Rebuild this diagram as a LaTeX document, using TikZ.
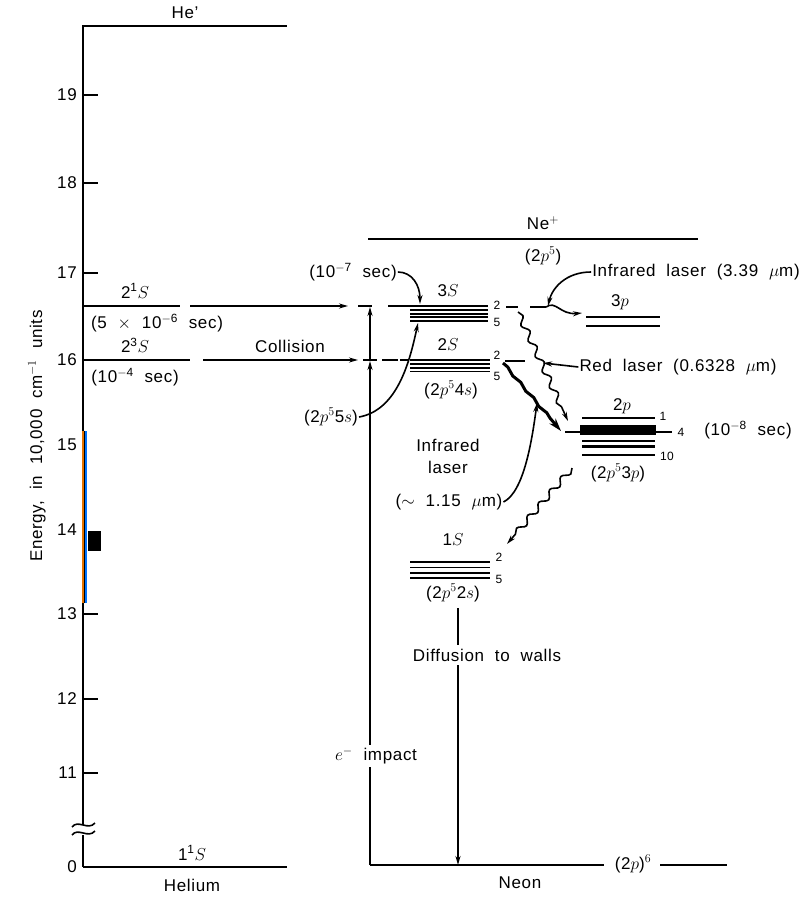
\documentclass[tikz,border=0pt]{standalone}
\usepackage{fontspec}
\setmainfont[LetterSpace=4,WordSpace=2]{Liberation Sans}
\usetikzlibrary{arrows.meta,decorations.pathmorphing}

\begin{document}
\begin{tikzpicture}[x=1pt,y=-1pt,>={Stealth[length=9pt,width=5pt]},
  every node/.style={font=\fontsize{17}{22}\selectfont,inner sep=1pt},
  small/.style={font=\fontsize{12}{13}\selectfont},
  lvl/.style={line width=2.4pt},
  con/.style={line width=1.6pt},
  wavy/.style={decorate,decoration={snake,amplitude=3pt,segment length=17pt,post length=9pt}}]
\useasboundingbox (0,0) rectangle (810,897);
% helium axis
\draw[line width=1.8pt] (83,25) -- (83,825);
\draw[line width=1.8pt] (83,835) -- (83,867);
\draw[con] (72,827) .. controls (78,819) and (88,831) .. (95,823);
\draw[con] (72,835) .. controls (78,827) and (88,839) .. (95,831);
\draw[orange!90!black, line width=2.2pt] (83,431) -- (83,603);
\draw[blue!55!cyan, line width=2pt] (86.2,431) -- (86.2,603);
\draw[line width=0.7pt] (84.8,431) -- (84.8,603);
\fill (88,531) rectangle (101,551);
\foreach \y/\v in {95/19,183/18,273/17,614/13,699/12,773/11}
  \draw[line width=1.8pt] (83,\y) -- (98,\y);
\foreach \y/\v in {95/19,183/18,273/17,360/16,445/15,530/14,614/13,699/12,773/11,867/0}
  \node[anchor=east] (t\v) at (78,\y) {\v};
\node[rotate=90] (elab) at (37,436) {Energy, in 10,000 cm$^{-1}$ units};
\draw[lvl] (83,26) -- (287,26) node[midway,above=5pt] (hep) {He'};
\draw[lvl] (83,867) -- (287,867);
\node (hg) at (192,853) {1\textsuperscript{1}$S$};
\node (hel) at (192,885) {Helium};
% helium metastables
\draw[lvl] (83,306) -- (180,306);
\node (h21) at (135,291) {2\textsuperscript{1}$S$};
\node (h21t) at (157,323) {(5 $\times$ 10\textsuperscript{$-$6} sec)};
\draw[lvl] (83,360) -- (190,360);
\node (h23) at (135,345) {2\textsuperscript{3}$S$};
\node (h23t) at (135,377) {(10\textsuperscript{$-$4} sec)};
\node (coll) at (290,346) {Collision};
\coordinate (a1) at (190,306);
\coordinate (b1) at (348,306);
\coordinate (a2) at (203,360);
\coordinate (b2) at (358,360);
\draw[con,->] (a1) -- (b1);
\draw[con,->] (a2) -- (b2);
% neon
\coordinate (n0) at (370,865);
\coordinate (n2s) at (370,361);
\coordinate (n3s) at (370,307);
\draw[con,->] (n0) -- (n2s);
\draw[con,->] (n2s) -- (n3s);
\draw[line width=2.8pt] (370,552) -- (370,602);
\node[fill=white,inner sep=3pt] (imp) at (376,756) {$e^-$ impact};
\draw[lvl] (370,865) -- (604,865);
\node (gs) at (633,864) {(2$p$)$^6$};
\draw[con] (660,865) -- (727,865);
\node (neon) at (520,883) {Neon};
\draw[lvl] (368,239) -- (698,239);
\node (nep) at (543,223) {Ne$^+$};
\node (p5) at (543,256) {(2$p^5$)};
% 3s levels
\draw[lvl] (358,306) -- (372,306);
\draw[lvl] (388,306) -- (410,306);
\foreach \y/\w in {306/2.6,310/1.3,313.5/2,317/2,321/1.3}
  \draw[line width=\w pt] (410,\y) -- (488,\y);
\node (s3) at (448,291) {3$S$};
\node[small] (s3a) at (497,305) {2};
\node[small] (s3b) at (497,322) {5};
\draw[lvl] (506,307) -- (518,307);
\draw[lvl] (530,307) -- (546,307);
% 2s levels
\draw[lvl] (363,360) -- (377,360);
\draw[lvl] (382,360) -- (398,360);
\draw[con] (400,360) -- (408,360);
\foreach \y/\w in {360/2.6,364/2,367.5/2,371.5/1.3}
  \draw[line width=\w pt] (410,\y) -- (490,\y);
\node (s2) at (448,345) {2$S$};
\node[small] (s2a) at (497,355) {2};
\node[small] (s2b) at (497,376) {5};
\draw[lvl] (505,361) -- (525,361);
\node (s2c) at (451,390) {(2$p^5$4$s$)};
% 3p levels
\draw[lvl] (586,317) -- (660,317);
\draw[lvl] (586,326) -- (660,326);
\node (p3) at (620,302) {3$p$};
% 2p levels
\draw[con] (565,432) -- (672,432);
\draw[line width=1.5pt] (582,418) -- (655,418);
\fill (580,425) rectangle (656,435);
\draw[line width=2pt] (582,441) -- (655,441);
\draw[line width=3pt] (582,446.5) -- (655,446.5);
\draw[line width=1.5pt] (582,455) -- (655,455);
\node (p2) at (622,406) {2$p$};
\node[small] (p2a) at (663,416) {1};
\node[small] (p2b) at (681,432) {4};
\node[small] (p2c) at (667,456) {10};
\node (p2t) at (748,430) {(10\textsuperscript{$-$8} sec)};
\node (p2d) at (618,473) {(2$p^5$3$p$)};
% 1s levels
\foreach \y/\w in {562/1.3,567.5/1.5,573/1.5,578/1.5}
  \draw[line width=\w pt] (410,\y) -- (490,\y);
\node (s1) at (453,540) {1$S$};
\node[small] (s1a) at (499,557) {2};
\node[small] (s1b) at (499,579) {5};
\node (s1c) at (453,593) {(2$p^5$2$s$)};
% transitions and labels
\node (t7) at (353,272) {(10\textsuperscript{$-$7} sec)};
\draw[con,->] (t7.east) .. controls (412,272) and (420,285) .. (420,304);
\node (s55) at (331,417) {(2$p^5$5$s$)};
\draw[con,->] (s55.east) .. controls (398,410) and (410,360) .. (418,323);
\node (ir1) at (696,272) {Infrared laser (3.39 $\mu$m)};
\draw[con,->] (ir1.west) .. controls (566,272) and (552,288) .. (548,306);
\draw[con,->] (546,307) .. controls (556,300) and (560,315) .. (582,313);
\node (red) at (678,367) {Red laser (0.6328 $\mu$m)};
\draw[con,->] (red.west) -- (543,363);
\draw[con,->,wavy] (518,312) -- (568,421);
\draw[line width=3pt,-{Stealth[length=13pt,width=8pt]},decorate,decoration={snake,amplitude=1pt,segment length=20pt,post length=12pt}] (503,363) -- (561,431);
\node[align=center] (ir2) at (448,456) {Infrared\\laser};
\node (ir2t) at (449,502) {($\sim$ 1.15 $\mu$m)};
\draw[con,->] (ir2t.east) .. controls (524,492) and (532,440) .. (537,403);
\draw[con,->,wavy] (572,468) -- (507,544);
\coordinate (d0) at (458,608);
\coordinate (d1) at (458,865);
\draw[con,->] (d0) -- (d1);
\node[fill=white,inner sep=4pt] (diff) at (487,655) {Diffusion to walls};
\end{tikzpicture}
\end{document}
